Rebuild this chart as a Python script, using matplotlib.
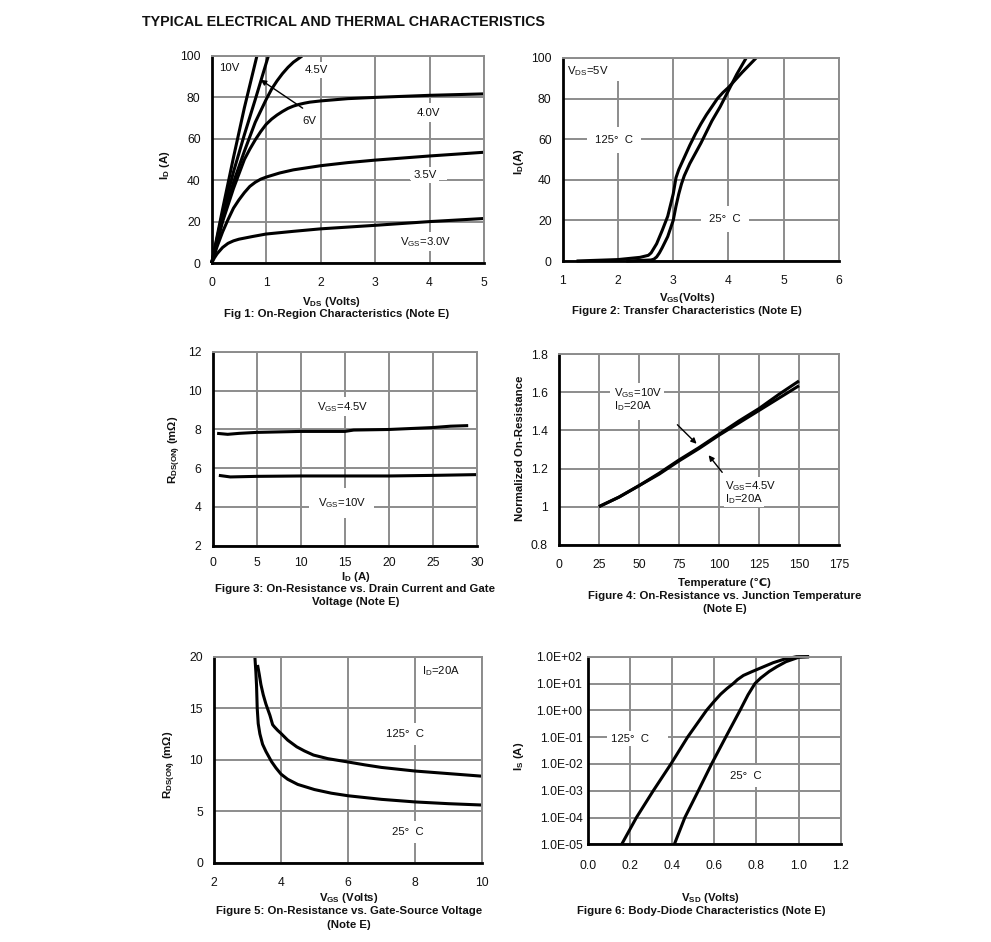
import matplotlib
matplotlib.use("Agg")
import matplotlib.pyplot as plt
from matplotlib.patches import Rectangle
from matplotlib.ticker import FixedLocator, FixedFormatter, NullLocator

plt.rcParams['font.family'] = ['Liberation Sans', 'DejaVu Sans']
plt.rcParams['mathtext.default'] = 'regular'
plt.rcParams['font.size'] = 8

# Fig 1
f1_10v_x = [0, 0.2, 0.4, 0.6, 0.83]
f1_10v_y = [0, 26, 51, 75, 100]
f1_6v_x = [0, 0.2, 0.4, 0.6, 0.8, 1.04]
f1_6v_y = [0, 24, 44, 62, 79, 100]
f1_45v_x = [0, 0.2, 0.4, 0.6, 0.8, 1.0, 1.1, 1.2, 1.3, 1.4, 1.5, 1.66]
f1_45v_y = [0, 21, 39, 54, 68, 79, 84, 88, 91.5, 94.5, 97, 100]
f1_4v_x = [0, 0.1, 0.2, 0.3, 0.4, 0.5, 0.6, 0.7, 0.8, 0.9, 1.0, 1.1, 1.2, 1.3, 1.4, 1.5, 1.6, 1.7, 1.8, 2, 2.5, 3, 4, 5]
f1_4v_y = [0, 10, 20, 28, 36, 43, 50, 55, 59.5, 63.5, 67, 69.5, 71.5, 73.2, 74.7, 75.8, 76.6, 77.2, 77.7, 78.3, 79.4, 80, 81, 81.7]
f1_35v_x = [0, 0.1, 0.2, 0.3, 0.4, 0.5, 0.6, 0.7, 0.8, 0.9, 1, 1.25, 1.5, 2, 2.5, 3, 4, 5]
f1_35v_y = [0, 8, 15, 21, 26.5, 30.5, 34, 37, 39, 40.5, 41.5, 43.5, 45, 47, 48.5, 49.7, 51.7, 53.5]
f1_3v_x = [0, 0.05, 0.1, 0.15, 0.2, 0.3, 0.4, 0.5, 0.75, 1, 1.5, 2, 3, 4, 5]
f1_3v_y = [0, 2.5, 4.5, 6, 7.5, 9.5, 10.7, 11.5, 12.8, 14, 15.3, 16.5, 18.2, 20, 21.5]
# Fig 2
f2_125_x = [1.25, 2, 2.4, 2.55, 2.6, 2.7, 2.8, 2.9, 3.0, 3.05, 3.1, 3.2, 3.3, 3.4, 3.5, 3.6, 3.7, 3.8, 3.9, 4.0, 4.25, 4.5]
f2_125_y = [0, 0.7, 1.8, 2.8, 4, 8.5, 15, 22, 33, 41, 45, 51, 57, 62.5, 67.5, 72, 76, 80, 83, 85.5, 93, 100]
f2_25_x = [2.15, 2.6, 2.65, 2.7, 2.75, 2.8, 2.9, 3.0, 3.05, 3.1, 3.15, 3.2, 3.3, 3.4, 3.5, 3.6, 3.7, 3.85, 4.0, 4.15, 4.32]
f2_25_y = [0, 0.5, 0.9, 2, 4, 6.5, 12, 20, 27, 33, 38, 42, 48, 53, 58, 63.5, 69, 76, 84, 92, 100]
# Fig 3
f3_45_x = [0.5, 1.7, 3, 5, 10, 15, 16, 20, 25, 27, 29]
f3_45_y = [7.8, 7.75, 7.8, 7.85, 7.9, 7.9, 7.97, 8.0, 8.1, 8.17, 8.2]
f3_10_x = [0.7, 2, 5, 10, 20, 25, 30]
f3_10_y = [5.63, 5.55, 5.58, 5.6, 5.6, 5.63, 5.67]
# Fig 4
f4_t = [25, 37.5, 50, 62.5, 75, 87.5, 100, 112.5, 125, 137.5, 150]
f4_10v = [1.0, 1.05, 1.11, 1.175, 1.245, 1.31, 1.38, 1.45, 1.515, 1.59, 1.66]
f4_45v = [1.0, 1.05, 1.11, 1.17, 1.24, 1.305, 1.375, 1.44, 1.505, 1.57, 1.635]
# Fig 5
f5_125_x = [3.3, 3.35, 3.4, 3.47, 3.55, 3.67, 3.75, 3.8, 3.9, 4, 4.2, 4.47, 4.7, 4.97, 5.4, 5.96, 6.5, 7, 8, 9, 10]
f5_125_y = [19.2, 18.3, 17.3, 16.3, 15.4, 14.3, 13.4, 13.2, 12.85, 12.55, 11.9, 11.25, 10.85, 10.45, 10.1, 9.8, 9.5, 9.25, 8.9, 8.65, 8.4]
f5_25_x = [3.22, 3.25, 3.27, 3.29, 3.32, 3.37, 3.45, 3.55, 3.72, 3.85, 4, 4.2, 4.5, 5, 5.5, 6, 7, 8, 9, 10]
f5_25_y = [20, 18.5, 17.2, 15, 13.5, 12.5, 11.5, 10.8, 9.8, 9.2, 8.6, 8.1, 7.6, 7.1, 6.75, 6.5, 6.15, 5.9, 5.73, 5.6]
# Fig 6
f6_125_x = [0.16, 0.23, 0.31, 0.394, 0.473, 0.563, 0.6, 0.63, 0.66, 0.69, 0.71, 0.738, 0.78, 0.82, 0.88, 0.93, 0.99, 1.05]
f6_125_y = [1e-5, 1e-4, 1e-3, 1e-2, 1e-1, 1, 2.2, 4, 6.5, 10, 14, 20, 28, 38, 60, 80, 100, 100]
f6_25_x = [0.41, 0.46, 0.524, 0.587, 0.654, 0.722, 0.76, 0.793, 0.82, 0.86, 0.896, 0.94, 1.0, 1.05]
f6_25_y = [1e-5, 1e-4, 1e-3, 1e-2, 1e-1, 1, 3.8, 10, 16, 28, 42, 65, 95, 100]
f6_ticks = [1e-5, 1e-4, 1e-3, 1e-2, 1e-1, 1, 10, 100]
f6_labels = ['1.0E-05', '1.0E-04', '1.0E-03', '1.0E-02', '1.0E-01', '1.0E+00', '1.0E+01', '1.0E+02']

W, H = 991, 942
fig = plt.figure(figsize=(W / 100, H / 100), dpi=100)
GRID = '#8c8c8c'
TXT = 8.2
TICK = 8.7


def make_ax(left, right, top, bottom, xlim, ylim, xticks, yticks, xfmt=None, yfmt=None, xpad=10, ypad=8):
    ax = fig.add_axes([left / W, 1 - bottom / H, (right - left) / W, (bottom - top) / H])
    ax.set_xlim(*xlim)
    ax.set_ylim(*ylim)
    ax.set_xticks(xticks)
    ax.set_yticks(yticks)
    if xfmt:
        ax.set_xticklabels([xfmt.format(v) for v in xticks])
    if yfmt:
        ax.set_yticklabels([yfmt.format(v) for v in yticks])
    ax.grid(True, color=GRID, lw=1.4, zorder=1)
    ax.tick_params(length=0, labelsize=TICK, colors='#111111')
    ax.tick_params(axis='x', pad=xpad)
    ax.tick_params(axis='y', pad=ypad)
    for s in ('left', 'bottom'):
        ax.spines[s].set_linewidth(2)
        ax.spines[s].set_color('black')
    for s in ('top', 'right'):
        ax.spines[s].set_linewidth(1.4)
        ax.spines[s].set_color(GRID)
    return ax


def px(x, y):
    return x / W, 1 - y / H


def label(ax, x, y, s, pad=2):
    fx, fy = px(x, y)
    ax.text(fx, fy, s, transform=fig.transFigure, ha='center', va='center', fontsize=TXT,
            zorder=1.8, clip_on=False, color='#111111',
            bbox=dict(fc='white', ec='none', pad=pad))


def mask(ax, x0, y0, x1, y1):
    fx, fy = px(x0, y1)
    ax.add_patch(Rectangle((fx, fy), (x1 - x0) / W, (y1 - y0) / H, transform=fig.transFigure,
                           fc='white', ec='none', zorder=1.7))


def bold(x, y, s, rotation=0, size=TXT):
    fx, fy = px(x, y)
    fig.text(fx, fy, s, ha='center', va='center', fontsize=size, fontweight='bold',
             rotation=rotation, color='#111111')


def curve(ax, x, y, lw=2.2):
    ax.plot(x, y, color='black', lw=lw, zorder=2.5, clip_on=False, solid_joinstyle='round', solid_capstyle='butt')


def arrow(ax, start, end):
    ax.annotate('', xy=end, xytext=start, zorder=3,
                arrowprops=dict(arrowstyle='-|>', color='black', lw=1, mutation_scale=8,
                                shrinkA=0, shrinkB=0))


bold(343, 22, 'TYPICAL ELECTRICAL AND THERMAL CHARACTERISTICS', size=10.3)

# Figure 1
a1 = make_ax(211.7, 484, 56, 263, (0, 5), (0, 100), range(0, 6), range(0, 101, 20))
for x, y in ((f1_10v_x, f1_10v_y), (f1_6v_x, f1_6v_y), (f1_45v_x, f1_45v_y),
             (f1_4v_x, f1_4v_y), (f1_35v_x, f1_35v_y), (f1_3v_x, f1_3v_y)):
    curve(a1, x, y)
arrow(a1, (1.67, 74.8), (0.9, 88.5))
mask(a1, 410, 170, 447, 180)
mask(a1, 416, 103, 440, 122)
label(a1, 229, 67.7, '10V')
label(a1, 316.7, 70, '4.5V')
label(a1, 309.3, 121.3, '6V')
label(a1, 428, 112.7, '4.0V')
label(a1, 425, 175, '3.5V')
label(a1, 425.7, 241.7, 'V$_{GS}$=3.0V')
bold(331.7, 301.7, 'V$_{DS}$ (Volts)')
bold(337, 314, 'Fig 1: On-Region Characteristics (Note E)')
bold(165, 165, 'I$_{D}$ (A)', rotation=90)

# Figure 2
a2 = make_ax(562.7, 839, 58, 261, (1, 6), (0, 100), range(1, 7), range(0, 101, 20))
curve(a2, f2_125_x, f2_125_y)
curve(a2, f2_25_x, f2_25_y)
mask(a2, 567, 59, 620, 81)
label(a2, 614, 140, '125°  C', pad=6)
label(a2, 725, 219, '25°  C', pad=6)
label(a2, 588, 70.7, 'V$_{DS}$=5V')
bold(686.7, 298, 'V$_{GS}$(Volts)')
bold(686.7, 311, 'Figure 2: Transfer Characteristics (Note E)')
bold(519, 162, 'I$_{D}$(A)', rotation=90)

# Figure 3
a3 = make_ax(212.7, 477, 352, 545.7, (0, 30), (2, 12), range(0, 31, 5), range(2, 13, 2), xpad=8)
curve(a3, f3_45_x, f3_45_y)
curve(a3, f3_10_x, f3_10_y)
label(a3, 343, 406.7, 'V$_{GS}$=4.5V')
label(a3, 341.7, 503, 'V$_{GS}$=10V', pad=6)
bold(355.7, 576.5, 'I$_{D}$ (A)')
bold(355, 589, 'Figure 3: On-Resistance vs. Drain Current and Gate')
bold(356, 602, 'Voltage (Note E)')
bold(175, 450, 'R$_{DS(ON)}$ (mΩ)', rotation=90)

# Figure 4
a4 = make_ax(559, 839, 354.3, 544.7, (0, 175), (0.8, 1.8), range(0, 176, 25), [0.8, 1.0, 1.2, 1.4, 1.6, 1.8])
a4.set_yticklabels(['0.8', '1', '1.2', '1.4', '1.6', '1.8'])
curve(a4, f4_t, f4_10v)
curve(a4, f4_t, f4_45v)
arrow(a4, (74, 1.43), (86, 1.33))
arrow(a4, (102, 1.18), (93.5, 1.27))
mask(a4, 610, 383, 664, 420)
mask(a4, 723, 478, 793, 506)
label(a4, 638, 393, 'V$_{GS}$=10V', pad=1)
label(a4, 633, 405.7, 'I$_{D}$=20A', pad=1)
label(a4, 750.7, 485.7, 'V$_{GS}$=4.5V', pad=1)
label(a4, 744, 499, 'I$_{D}$=20A', pad=1)
bold(724, 583, 'Temperature (℃)')
bold(725, 596, 'Figure 4: On-Resistance vs. Junction Temperature')
bold(725, 609, '(Note E)')
bold(520, 448, 'Normalized On-Resistance', rotation=90)

# Figure 5
a5 = make_ax(214, 482, 656.7, 862.7, (2, 10), (0, 20), range(2, 11, 2), range(0, 21, 5))
curve(a5, f5_125_x, f5_125_y)
curve(a5, f5_25_x, f5_25_y)
label(a5, 440.7, 670.7, 'I$_{D}$=20A')
label(a5, 405, 734, '125°  C', pad=4)
label(a5, 407.7, 832, '25°  C', pad=4)
bold(349, 898, 'V$_{GS}$ (Volts)')
bold(349, 911, 'Figure 5: On-Resistance vs. Gate-Source Voltage')
bold(349, 925, '(Note E)')
bold(170, 765, 'R$_{DS(ON)}$ (mΩ)', rotation=90)

# Figure 6
a6 = make_ax(588, 840.7, 656.7, 844.3, (0, 1.2), (1e-5, 100), [0, 0.2, 0.4, 0.6, 0.8, 1.0, 1.2], [1],
             xfmt='{:.1f}', xpad=11, ypad=4)
a6.set_yscale('log')
a6.set_ylim(1e-5, 100)
a6.yaxis.set_major_locator(FixedLocator(f6_ticks))
a6.yaxis.set_major_formatter(FixedFormatter(f6_labels))
a6.yaxis.set_minor_locator(NullLocator())
a6.grid(True, color=GRID, lw=1.4, zorder=1)
curve(a6, f6_125_x, f6_125_y)
curve(a6, f6_25_x, f6_25_y)
mask(a6, 607, 733, 668, 744)
label(a6, 630, 738.7, '125°  C', pad=2)
label(a6, 746, 776, '25°  C', pad=4)
bold(710, 898, 'V$_{SD}$ (Volts)')
bold(701, 911, 'Figure 6: Body-Diode Characteristics (Note E)')
bold(519, 756.7, 'I$_{S}$ (A)', rotation=90)

fig.savefig('out.png', dpi=100)
